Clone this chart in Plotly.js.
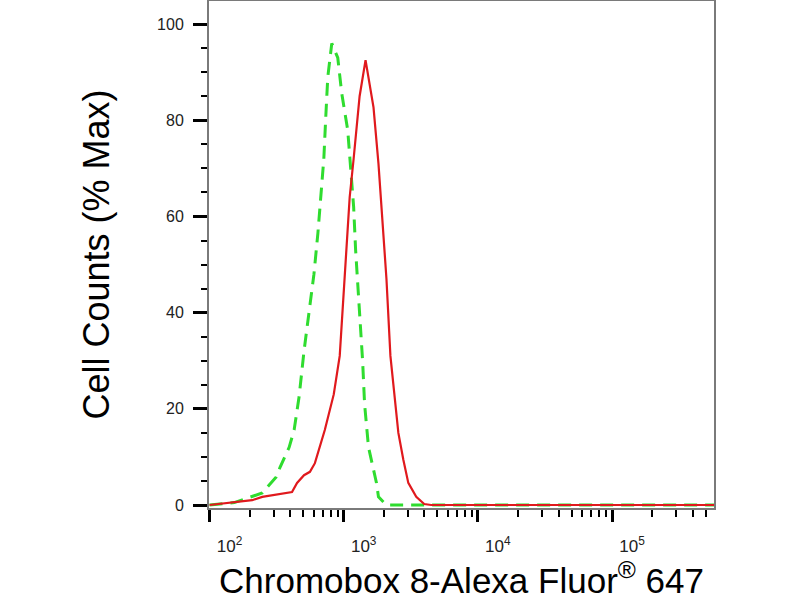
<!DOCTYPE html>
<html>
<head>
<meta charset="utf-8">
<script src="https://cdn.plot.ly/plotly-3.0.1.min.js"></script>
<style>
  html, body { margin: 0; padding: 0; background: #fff; }
  #chart { width: 800px; height: 600px; }
</style>
</head>
<body>
<div id="chart"></div>
<script>
// isotype control (green dashed)
const controlX = [100, 153, 247, 313, 336, 392, 427, 465, 506, 551, 600, 642, 676, 711, 736, 761, 815,
                  903, 967, 1071, 1127, 1186, 1227, 1291, 1337, 1383, 1431, 1531, 1755, 1816, 2083, 3192, 600000];
const controlY = [0, 0.5, 2.5, 5.8, 7.9, 12, 15.6, 22.5, 32, 40, 48, 56.5, 64, 72, 81, 89, 96,
                  93, 85.6, 78, 70, 62, 53, 44, 36, 30, 21, 12, 4.6, 1.7, 0, 0, 0];

// Chromobox 8 stained sample (red solid)
const sampleX = [100, 132, 208, 247, 348, 412, 449, 506, 560, 610, 723, 843, 934, 983, 1052, 1108, 1186,
                 1314, 1455, 1668, 1816, 1945, 2083, 2229, 2387, 2555, 2783, 3030, 3474, 3981, 4487, 600000];
const sampleY = [0, 0.4, 1, 1.7, 2.3, 2.7, 4.6, 6.2, 6.9, 8.7, 15.6, 23, 31, 40.5, 53, 64, 72,
                 85, 92.5, 82.7, 71, 60, 47, 31, 23, 15, 9.4, 4.6, 1.7, 0.2, 0, 0];

// axis ticks
const xMajorVals = [100, 1000, 10000, 100000];
const xMajorText = ['10<sup>2</sup>', '10<sup>3</sup>', '10<sup>4</sup>', '10<sup>5</sup>'];
const xMinorVals = [];
for (let e = 2; e <= 5; e++) {
    for (let m = 2; m <= 9; m++) xMinorVals.push(m * Math.pow(10, e));
}
const yMajorVals = [0, 20, 40, 60, 80, 100];

const FONT = '"Liberation Sans", Arial, Helvetica, sans-serif';
const FRAME = '#7a7a7a';

const traces = [
    {
        x: controlX, y: controlY, type: 'scatter', mode: 'lines',
        line: { color: '#2fdc2f', width: 3, dash: '13px,8px' },
        hoverinfo: 'none'
    },
    {
        x: sampleX, y: sampleY, type: 'scatter', mode: 'lines',
        line: { color: '#e0191d', width: 2.2 },
        hoverinfo: 'none'
    }
];

const layout = {
    width: 800, height: 600,
    margin: { l: 209, r: 86, t: 1, b: 92 },
    paper_bgcolor: '#fff', plot_bgcolor: '#fff',
    showlegend: false,
    font: { family: FONT, color: '#000' },
    xaxis: {
        type: 'log',
        range: [1.996, 5.76],
        tickmode: 'array', tickvals: xMajorVals, ticktext: xMajorText,
        ticks: 'outside', ticklen: 12, tickwidth: 3, tickcolor: '#000',
        ticklabelshift: 20, ticklabelstandoff: 10,
        tickfont: { size: 17, color: '#222' },
        minor: { tickmode: 'array', tickvals: xMinorVals, ticks: 'outside', ticklen: 7, tickwidth: 2, tickcolor: '#000', showgrid: false },
        showline: true, linecolor: FRAME, linewidth: 2, mirror: true,
        showgrid: false, zeroline: false,
        title: { text: 'Chromobox 8-Alexa Fluor<sup>®</sup> 647', font: { size: 35, color: '#000' }, standoff: 22 }
    },
    yaxis: {
        range: [-0.62, 104.8],
        tickmode: 'array', tickvals: yMajorVals,
        ticks: 'outside', ticklen: 14, tickwidth: 3, tickcolor: '#000',
        ticklabelstandoff: 6,
        tickfont: { size: 16, color: '#222' },
        minor: { dtick: 5, ticks: 'outside', ticklen: 6, tickwidth: 2, tickcolor: '#000', showgrid: false },
        showline: true, linecolor: FRAME, linewidth: 2, mirror: true,
        showgrid: false, zeroline: false,
        title: { text: 'Cell Counts (% Max)', font: { size: 36, color: '#000' }, standoff: 36 }
    }
};

Plotly.newPlot('chart', traces, layout, { staticPlot: true, displayModeBar: false });
</script>
</body>
</html>
